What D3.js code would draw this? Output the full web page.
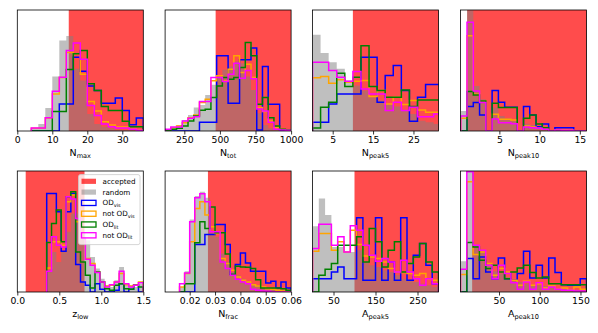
<!DOCTYPE html>
<html>
<head>
<meta charset="utf-8">
<script src="https://cdn.jsdelivr.net/npm/d3@7"></script>
<style>
  body { margin: 0; background: #fff; }
  text { font-family: "DejaVu Sans", sans-serif; }
</style>
</head>
<body>
<div class="chart"></div>
<script>
// histogram heights (relative units, same scale in every panel)
var nmaxRandom = [8, 21, 69, 163, 271, 284, 186, 151, 51, 21, 13, 8, 4, 3, 2, 1];
var nmaxOdVis = [0, 0, 0, 0, 81, 81, 221, 179, 135, 121, 83, 83, 99, 61, 19, 39];
var nmaxNotOdVis = [8, 8, 39, 111, 160, 235, 231, 170, 88, 60, 28, 18, 12, 12, 6, 3];
var nmaxOdLit = [0, 0, 0, 58, 58, 184, 231, 241, 141, 121, 73, 61, 61, 29, 13, 13];
var nmaxNotOdLit = [9, 9, 40, 119, 161, 241, 263, 215, 76, 46, 21, 13, 9, 9, 5, 2];

var ntotRandom = [3, 8, 18, 33, 48, 70, 78, 108, 138, 163, 183, 193, 208, 203, 163, 123, 53, 18, 8, 3, 1, 0];
var ntotOdVis = [0, 0, 0, 0, 0, 0, 26, 26, 26, 225, 225, 83, 83, 213, 213, 248, 3, 193, 80, 80, 0, 0];
var ntotNotOdVis = [4, 10, 15, 25, 40, 48, 85, 95, 150, 165, 150, 185, 225, 175, 200, 160, 70, 58, 30, 10, 5, 3];
var ntotOdLit = [0, 5, 8, 15, 30, 45, 62, 65, 100, 135, 160, 155, 160, 190, 265, 225, 80, 100, 40, 15, 5, 3];
var ntotNotOdLit = [5, 12, 12, 30, 38, 43, 88, 88, 160, 160, 148, 170, 203, 158, 181, 156, 66, 60, 26, 5, 3, 2];

var npeak5Random = [288, 233, 206, 186, 151, 136, 121, 101, 91, 81, 73, 61, 51, 31, 26, 21];
var npeak5OdVis = [26, 26, 81, 111, 111, 111, 221, 221, 86, 166, 196, 121, 29, 101, 139, 139];
var npeak5NotOdVis = [159, 163, 143, 153, 146, 149, 151, 103, 121, 81, 101, 79, 91, 63, 56, 56];
var npeak5OdLit = [9, 71, 86, 173, 133, 161, 255, 133, 121, 101, 101, 123, 73, 93, 93, 93];
var npeak5NotOdLit = [206, 206, 181, 161, 149, 178, 126, 111, 111, 61, 86, 61, 71, 43, 43, 51];

var npeak10Random = [60, 361, 135, 95, 0, 70, 45, 38, 30, 0, 22, 18, 12, 8, 0, 5, 4, 3, 2, 1];
var npeak10OdVis = [0, 73, 85, 48, 0, 121, 86, 71, 71, 0, 73, 48, 13, 21, 0, 10, 10, 10, 0, 0];
var npeak10NotOdVis = [38, 285, 110, 90, 0, 50, 35, 35, 33, 0, 15, 12, 8, 5, 0, 3, 3, 2, 0, 0];
var npeak10OdLit = [0, 118, 108, 90, 0, 83, 70, 70, 70, 0, 38, 48, 21, 10, 0, 0, 0, 0, 0, 0];
var npeak10NotOdLit = [45, 325, 120, 85, 0, 36, 25, 25, 22, 0, 12, 10, 8, 5, 0, 3, 2, 2, 0, 0];

var zlowRandom = [60, 120, 90, 120, 180, 235, 235, 180, 155, 105, 70, 40, 20, 15, 35, 75, 25, 20, 15, 25];
var zlowOdVis = [295, 295, 240, 122, 240, 295, 82, 30, 20, 0, 25, 8, 0, 0, 5, 25, 0, 8, 20, 0];
var zlowNotOdVis = [72, 150, 150, 140, 270, 290, 210, 160, 100, 85, 60, 30, 18, 20, 30, 55, 22, 18, 22, 30];
var zlowOdLit = [148, 205, 245, 150, 285, 300, 120, 90, 50, 12, 60, 30, 10, 5, 20, 25, 10, 8, 20, 15];
var zlowNotOdLit = [62, 165, 140, 135, 285, 278, 220, 160, 98, 80, 58, 30, 15, 22, 30, 62, 25, 15, 20, 28];

var nfracRandom = [15, 62, 217, 287, 300, 282, 177, 165, 115, 90, 60, 50, 40, 32, 25, 20, 15, 12, 10, 8, 5, 3];
var nfracOdVis = [0, 0, 0, 142, 142, 172, 172, 202, 202, 142, 52, 82, 117, 87, 62, 62, 62, 27, 32, 12, 30, 12];
var nfracNotOdVis = [15, 55, 150, 250, 270, 230, 195, 175, 100, 85, 65, 45, 35, 30, 22, 18, 15, 10, 8, 5, 3, 2];
var nfracOdLit = [0, 25, 25, 147, 210, 190, 254, 177, 177, 114, 52, 77, 75, 74, 70, 37, 12, 12, 12, 12, 10, 5];
var nfracNotOdLit = [25, 57, 210, 282, 294, 270, 180, 180, 90, 70, 50, 38, 30, 25, 8, 5, 3, 2, 0, 0, 0, 0];

var apeak5Random = [197, 280, 230, 135, 135, 120, 120, 125, 90, 80, 75, 65, 60, 50, 40, 35, 30, 25, 20, 15];
var apeak5OdVis = [40, 40, 40, 60, 75, 40, 40, 222, 35, 35, 222, 35, 90, 35, 222, 35, 110, 145, 80, 25];
var apeak5NotOdVis = [122, 175, 175, 125, 150, 120, 185, 142, 108, 105, 100, 90, 70, 60, 58, 55, 50, 55, 40, 35];
var apeak5OdLit = [0, 50, 68, 85, 140, 140, 140, 165, 90, 190, 150, 75, 125, 150, 60, 85, 105, 145, 90, 60];
var apeak5NotOdLit = [130, 203, 203, 140, 165, 120, 198, 185, 140, 110, 92, 100, 90, 60, 95, 60, 40, 20, 40, 25];

var apeak10Random = [92, 362, 140, 122, 80, 62, 55, 45, 35, 30, 25, 22, 20, 18, 15, 12, 10, 8, 6, 5];
var apeak10OdVis = [0, 100, 40, 105, 60, 40, 102, 40, 35, 55, 122, 42, 80, 42, 102, 58, 22, 20, 20, 40];
var apeak10NotOdVis = [52, 330, 112, 120, 85, 50, 70, 60, 35, 20, 32, 20, 25, 12, 18, 8, 12, 5, 15, 8];
var apeak10OdLit = [0, 148, 135, 95, 70, 80, 60, 40, 60, 72, 80, 58, 42, 45, 25, 25, 22, 22, 22, 22];
var apeak10NotOdLit = [68, 360, 140, 125, 80, 40, 80, 55, 28, 8, 30, 8, 28, 8, 15, 8, 5, 5, 3, 3];

var seriesNames = ['random', 'OD_vis', 'not OD_vis', 'OD_lit', 'not OD_lit'];
var legendLabels = [['accepted', ''], ['random', ''], ['OD', 'vis'], ['not OD', 'vis'], ['OD', 'lit'], ['not OD', 'lit']];
var lineColors = ['blue', 'orange', 'green', 'magenta'];

var panels = [
    { main: 'N', sub: 'max', domain: [0, 36], binStart: 4, binWidth: 2, accept: [14.7, 40],
      ticks: [0, 10, 20, 30], fmt: 'd',
      data: [nmaxRandom, nmaxOdVis, nmaxNotOdVis, nmaxOdLit, nmaxNotOdLit] },
    { main: 'N', sub: 'tot', domain: [115, 1000], binStart: 115, binWidth: 40.23, accept: [470, 1100],
      ticks: [250, 500, 750, 1000], fmt: 'd',
      data: [ntotRandom, ntotOdVis, ntotNotOdVis, ntotOdLit, ntotNotOdLit] },
    { main: 'N', sub: 'peak5', domain: [0, 31.2], binStart: 0, binWidth: 2, accept: [10, 40],
      ticks: [5, 15, 25], fmt: 'd',
      data: [npeak5Random, npeak5OdVis, npeak5NotOdVis, npeak5OdLit, npeak5NotOdLit] },
    { main: 'N', sub: 'peak10', domain: [0.17, 15.83], binStart: 0.2, binWidth: 0.78, accept: [1.0, 20],
      ticks: [5, 10, 15], fmt: 'd',
      data: [npeak10Random, npeak10OdVis, npeak10NotOdVis, npeak10OdLit, npeak10NotOdLit] },
    { main: 'z', sub: 'low', domain: [0, 1.5], binStart: 0.35, binWidth: 0.0575, accept: [0.1, 0.8],
      ticks: [0, 0.5, 1.0, 1.5], fmt: '.1f',
      data: [zlowRandom, zlowOdVis, zlowNotOdVis, zlowOdLit, zlowNotOdLit] },
    { main: 'N', sub: 'frac', domain: [0.0103, 0.06], binStart: 0.016, binWidth: 0.002, accept: [0.0272, 0.07],
      ticks: [0.02, 0.03, 0.04, 0.05, 0.06], fmt: '.2f',
      data: [nfracRandom, nfracOdVis, nfracNotOdVis, nfracOdLit, nfracNotOdLit] },
    { main: 'A', sub: 'peak5', domain: [0, 300], binStart: 0, binWidth: 15, accept: [100, 400],
      ticks: [50, 150, 250], fmt: 'd',
      data: [apeak5Random, apeak5OdVis, apeak5NotOdVis, apeak5OdLit, apeak5NotOdLit] },
    { main: 'A', sub: 'peak10', domain: [2.7, 157.4], binStart: 2.7, binWidth: 7.735, accept: [17, 200],
      ticks: [50, 100, 150], fmt: 'd',
      data: [apeak10Random, apeak10OdVis, apeak10NotOdVis, apeak10OdLit, apeak10NotOdLit] }
];

var colLeft = [17.3, 165.1, 312.5, 460.5];
var rowTop = [10, 171];
var pw = 126, ph = 121;
var yMax = 362;

var svg = d3.select('.chart')
    .append('svg')
    .attr('width', 598)
    .attr('height', 333);

panels.forEach(function (p, i) {
    var g = svg.append('g')
        .attr('transform', 'translate(' + colLeft[i % 4] + ',' + rowTop[Math.floor(i / 4)] + ')');

    var xScale = d3.scaleLinear().domain(p.domain).range([0, pw]);
    var yScale = d3.scaleLinear().domain([0, yMax]).range([ph, 0]);

    g.append('clipPath').attr('id', 'clip' + i)
        .append('rect').attr('width', pw).attr('height', ph);
    var plot = g.append('g').attr('clip-path', 'url(#clip' + i + ')');

    // accepted range
    plot.append('rect')
        .attr('x', xScale(p.accept[0]))
        .attr('width', xScale(p.accept[1]) - xScale(p.accept[0]))
        .attr('y', 0)
        .attr('height', ph)
        .style('fill', 'red')
        .style('opacity', 0.7);

    // turn bin values into step points
    function steps(vals) {
        var pts = [[p.binStart, 0]];
        vals.forEach(function (v, k) {
            var a = p.binStart + k * p.binWidth;
            pts.push([a, v], [a + p.binWidth, v]);
        });
        pts.push([p.binStart + vals.length * p.binWidth, 0]);
        return pts;
    }

    var area = d3.area()
        .x(d => xScale(d[0]))
        .y0(ph)
        .y1(d => yScale(d[1]));
    plot.append('path')
        .datum(steps(p.data[0]))
        .attr('d', area)
        .style('fill', 'gray')
        .style('opacity', 0.5);

    var line = d3.line()
        .x(d => xScale(d[0]))
        .y(d => yScale(d[1]));
    p.data.slice(1).forEach(function (vals, k) {
        plot.append('path')
            .datum(steps(vals))
            .attr('d', line)
            .style('fill', 'none')
            .style('stroke', lineColors[k])
            .style('stroke-width', 1.5);
    });

    // x axis
    var xAxis = d3.axisBottom(xScale)
        .tickValues(p.ticks)
        .tickFormat(d3.format(p.fmt))
        .tickSize(3.5)
        .tickPadding(2.2);
    var ax = g.append('g')
        .attr('transform', 'translate(0,' + ph + ')')
        .call(xAxis);
    ax.select('.domain').remove();
    ax.selectAll('line').style('stroke', '#000').style('stroke-width', 0.8);
    ax.selectAll('text')
        .style('font-family', '"DejaVu Sans", sans-serif')
        .style('font-size', '9.3px')
        .style('fill', '#000');

    // frame
    g.append('rect')
        .attr('width', pw)
        .attr('height', ph)
        .style('fill', 'none')
        .style('stroke', '#000')
        .style('stroke-width', 0.8);

    // axis label with subscript
    var lbl = g.append('text')
        .attr('x', pw / 2)
        .attr('y', ph + 25)
        .style('text-anchor', 'middle')
        .style('font-size', '9.5px')
        .style('fill', '#000');
    lbl.append('tspan').text(p.main);
    lbl.append('tspan').attr('dy', 2).style('font-size', '6.6px').text(p.sub);
});

// legend (inside the z_low panel)
var leg = svg.append('g').attr('transform', 'translate(78.5,174.6)');
leg.append('rect')
    .attr('width', 61.5)
    .attr('height', 70)
    .attr('rx', 2)
    .style('fill', '#fff')
    .style('fill-opacity', 0.8)
    .style('stroke', '#ccc')
    .style('stroke-width', 0.8);

legendLabels.forEach(function (l, k) {
    var cy = 6.7 + k * 10.8;
    var patch = leg.append('rect')
        .attr('x', 3)
        .attr('y', cy - 2.6)
        .attr('width', 14.5)
        .attr('height', 5.2);
    if (k === 0) {
        patch.style('fill', 'red').style('opacity', 0.7);
    } else if (k === 1) {
        patch.style('fill', 'gray').style('opacity', 0.5);
    } else {
        patch.style('fill', 'none').style('stroke', lineColors[k - 2]).style('stroke-width', 1.3);
    }
    var t = leg.append('text')
        .attr('x', 24)
        .attr('y', cy + 2.6)
        .style('font-size', '7.2px')
        .style('fill', '#000');
    t.append('tspan').text(l[0]);
    if (l[1]) {
        t.append('tspan').attr('dy', 1.6).style('font-size', '5px').text(l[1]);
    }
});
</script>
</body>
</html>
